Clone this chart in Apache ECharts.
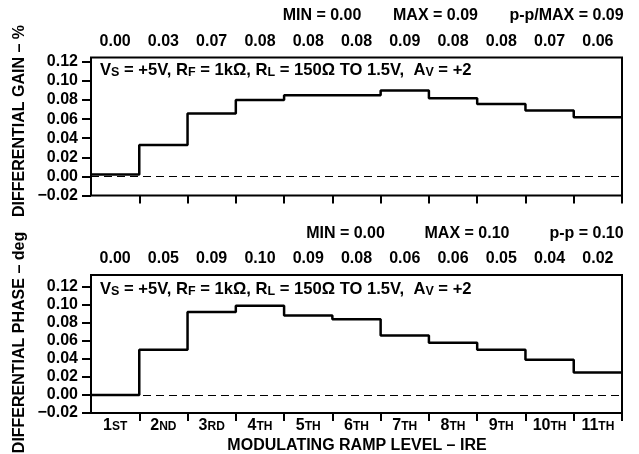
<!DOCTYPE html>
<html>
<head>
<meta charset="utf-8">
<script src="https://cdn.jsdelivr.net/npm/echarts@6/dist/echarts.min.js"></script>
<style>
html,body{margin:0;padding:0;background:#fff;}
#chart{width:639px;height:454px;}
</style>
</head>
<body>
<div id="chart"></div>
<script>
const categories = ['1ST','2ND','3RD','4TH','5TH','6TH','7TH','8TH','9TH','10TH','11TH'];
const gainValues = [0.002,0.033,0.066,0.080,0.085,0.085,0.090,0.082,0.076,0.069,0.062];
const phaseValues = [0.000,0.050,0.092,0.099,0.088,0.084,0.066,0.058,0.050,0.039,0.025];
const gainLabels = ['0.00','0.03','0.07','0.08','0.08','0.08','0.09','0.08','0.08','0.07','0.06'];
const phaseLabels = ['0.00','0.05','0.09','0.10','0.09','0.08','0.06','0.06','0.05','0.04','0.02'];
const yTicks = [-0.02,0.00,0.02,0.04,0.06,0.08,0.10,0.12];
const gainStats = ['MIN = 0.00','MAX = 0.09','p-p/MAX = 0.09'];
const phaseStats = ['MIN = 0.00','MAX = 0.10','p-p = 0.10'];
const gainTitle = 'DIFFERENTIAL GAIN – %';
const phaseTitle = 'DIFFERENTIAL PHASE – deg';
const xTitle = 'MODULATING RAMP LEVEL – IRE';

const FF = 'Liberation Sans, Arial, sans-serif';
const FS = 16;
const chart = echarts.init(document.getElementById('chart'), null, {renderer:'canvas'});

function stepData(vals){
  const d = vals.map((v,i)=>[i,v]);
  d.push([vals.length, vals[vals.length-1]]);
  return d;
}
const boundaries = categories.map((c,i)=>i+1);

function catFormatter(v){
  const m = /^(\d+)(\D+)$/.exec(v);
  return m ? '{n|'+m[1]+'}{s|'+m[2]+'}' : v;
}

const grids = [
  {left:91, right:17, top:57.5, height:138},
  {left:91, right:17, top:275, height:138}
];
const maxes = [0.1246, 0.133];
const topLabelSets = [gainLabels, phaseLabels];
const showCat = [false, true];

const xAxes = [], yAxes = [], series = [];
grids.forEach((g, gi)=>{
  grids[gi] = Object.assign({show:true, borderColor:'#000', borderWidth:2, backgroundColor:'transparent'}, g);
  xAxes.push({
    gridIndex:gi, type:'category', data:categories, position:'bottom', boundaryGap:true,
    axisLine:{show:false}, axisTick:{show:false}, splitLine:{show:false},
    axisLabel:{show:showCat[gi], interval:0, margin:5, formatter:catFormatter, color:'#000',
      rich:{n:{fontFamily:FF, fontWeight:'bold', fontSize:FS, color:'#000'},
            s:{fontFamily:FF, fontWeight:'bold', fontSize:12, color:'#000', padding:[2,0,0,0]}}}
  });
  xAxes.push({
    gridIndex:gi, type:'value', min:0, max:categories.length, position:'bottom',
    axisLine:{show:false}, splitLine:{show:false},
    axisLabel:{show:false},
    axisTick:{show:true, inside:false, length:8, customValues:boundaries, lineStyle:{color:'#000', width:2}}
  });
  xAxes.push({
    gridIndex:gi, type:'category', data:topLabelSets[gi], position:'top', boundaryGap:true,
    axisLine:{show:false}, axisTick:{show:false}, splitLine:{show:false},
    axisLabel:{show:true, interval:0, margin:8, color:'#000', fontFamily:FF, fontWeight:'bold', fontSize:FS}
  });
  yAxes.push({
    gridIndex:gi, type:'value', min:-0.02, max:maxes[gi], interval:0.02,
    axisLine:{show:false}, splitLine:{show:false},
    axisTick:{show:true, length:9, customValues:yTicks, lineStyle:{color:'#000', width:2}},
    axisLabel:{show:true, margin:13, customValues:yTicks, color:'#000', fontFamily:FF, fontWeight:'bold', fontSize:FS,
      formatter:function(v){ return (v<0?'−':'') + Math.abs(v).toFixed(2); }}
  });
  series.push({
    type:'line', xAxisIndex:gi*3+1, yAxisIndex:gi, step:'end', symbol:'none',
    data: stepData(gi===0?gainValues:phaseValues),
    lineStyle:{color:'#000', width:2.5}, silent:true, animation:false,
    markLine:{silent:true, symbol:['none','none'], label:{show:false},
      lineStyle:{color:'#000', width:1.2, type:[8,5]}, data:[{yAxis:0}]}
  });
});

function annot(y){
  return {type:'text', left:100, top:y, style:{
    text:'V{b|S} = +5V, R{b|F} = 1kΩ, R{b|L} = 150Ω TO 1.5V,  A{b|V} = +2',
    font:'bold 16.6px '+FF, fill:'#000',
    rich:{b:{fontFamily:FF, fontWeight:'bold', fontSize:12.5, fill:'#000', padding:[6,0,0,0]}}
  }};
}
function stat(txt, cx, cy){
  return {type:'text', x:cx, y:cy, style:{text:txt, font:'bold '+FS+'px '+FF, fill:'#000', align:'center', verticalAlign:'middle'}};
}
const graphics = [
  annot(61.5), annot(280.5),
  stat(gainStats[0], 322, 16), stat(gainStats[1], 435.5, 16), stat(gainStats[2], 566.5, 16),
  stat(phaseStats[0], 345.5, 233.5), stat(phaseStats[1], 467, 233.5), stat(phaseStats[2], 586.5, 233.5),
  {type:'text', x:20, y:121, rotation:Math.PI/2, style:{text:gainTitle, font:'bold '+FS+'px '+FF, fill:'#000', align:'center', verticalAlign:'middle'}},
  {type:'text', x:20, y:342.5, rotation:Math.PI/2, style:{text:phaseTitle, font:'bold '+FS+'px '+FF, fill:'#000', align:'center', verticalAlign:'middle'}},
  {type:'text', x:357, y:446, style:{text:xTitle, font:'bold '+FS+'px '+FF, fill:'#000', align:'center', verticalAlign:'middle'}}
];

chart.setOption({
  animation:false,
  backgroundColor:'#fff',
  grid:grids, xAxis:xAxes, yAxis:yAxes, series:series, graphic:graphics
});
</script>
</body>
</html>
